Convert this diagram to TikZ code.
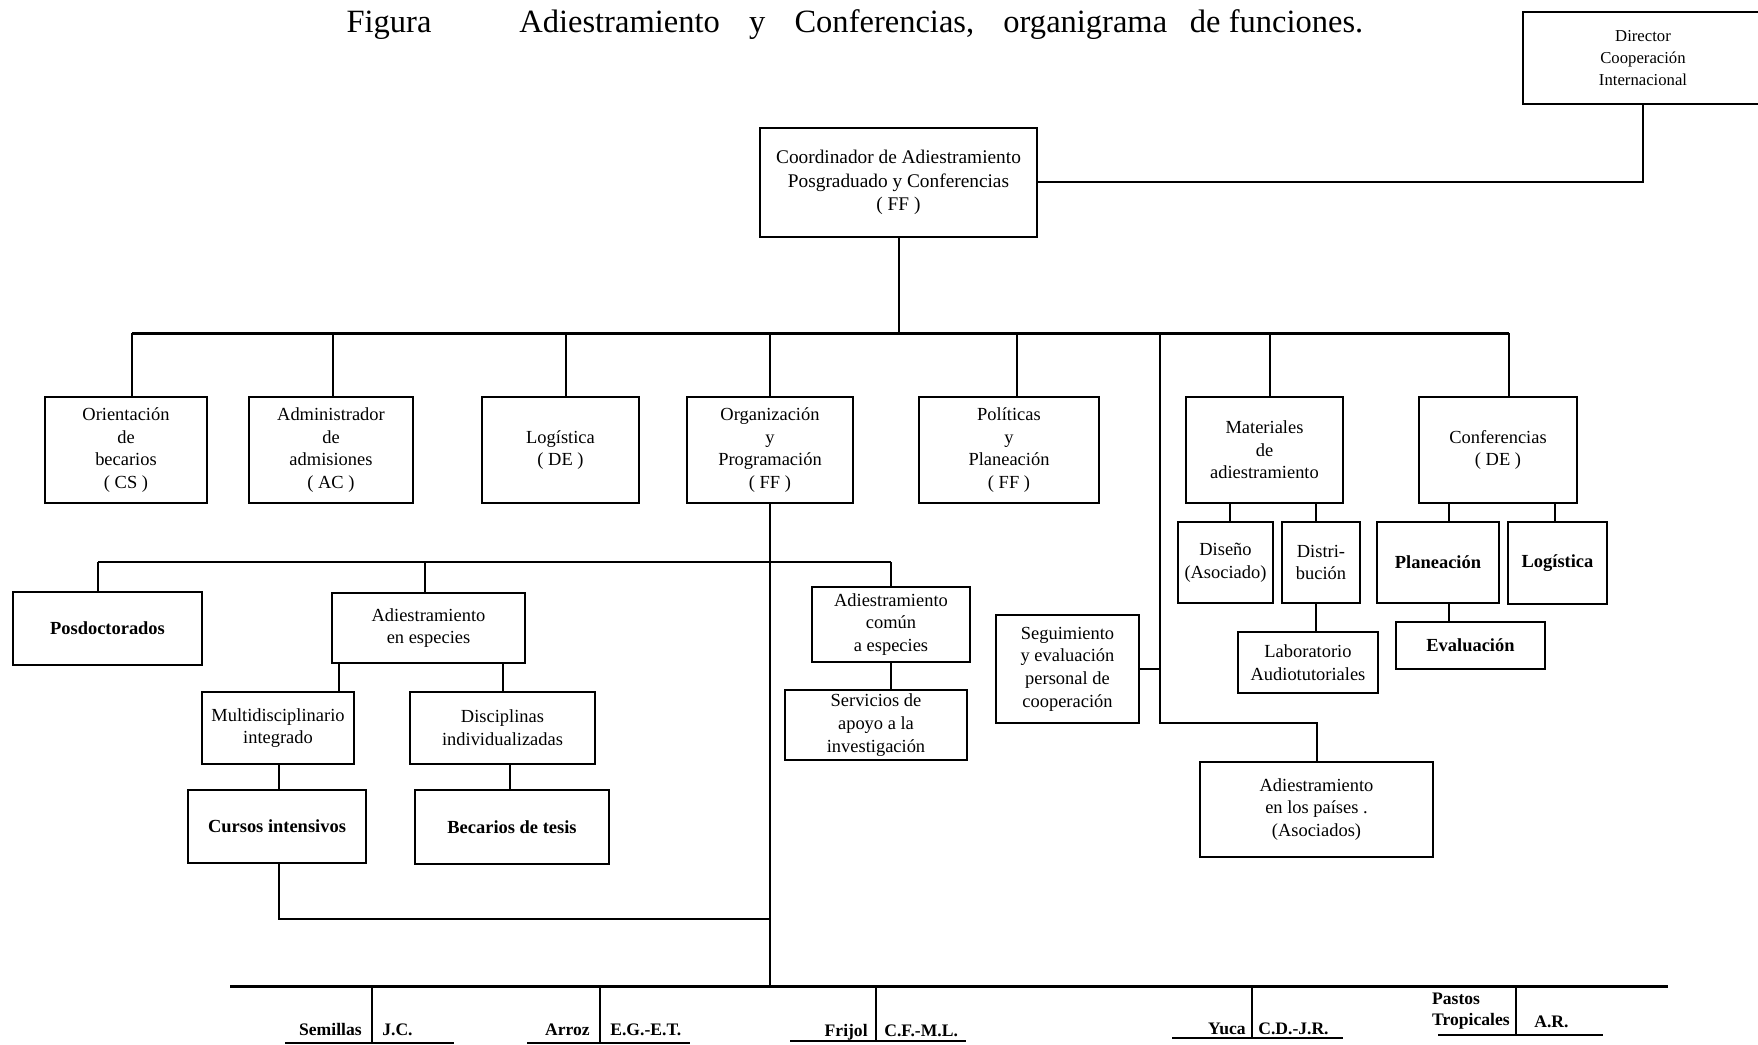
\documentclass[tikz,border=0pt]{standalone}
\usepackage{fontspec}
\setmainfont{Liberation Serif}
\tikzset{
  orgbox/.style={draw, line width=0.55mm, inner sep=0pt, align=center, font=\fontsize{10.5}{12.9}\selectfont},
  bf/.style={font=\bfseries\fontsize{10.5}{12.9}\selectfont},
  link/.style={line width=0.4mm},
  bus/.style={line width=0.6mm},
  lbl/.style={inner sep=0pt, font=\bfseries\fontsize{10}{12.4}\selectfont, align=left},
}
\newcommand\obox[7][]{\node[orgbox,#1,minimum width={(#5-#3)*0.2mm},minimum height={(#6-#4)*0.2mm}] (#2) at ({(#3+#5)/2},{(#4+#6)/2}) {#7};}
\begin{document}
\begin{tikzpicture}[x=0.2mm,y=-0.2mm]
\fill[white] (0,0) rectangle (1758,1045);
\useasboundingbox (0,0) rectangle (1758,1045);
% title
\node[anchor=base, inner sep=0pt, font=\fontsize{18.5}{22}\selectfont] (fig) at (389,33) {Figura};
\node[anchor=base west, inner sep=0pt, font=\fontsize{18.5}{22}\selectfont] (tit) at (519,33) {Adiestramiento\hspace{0.9em}y\hspace{0.9em}Conferencias,\hspace{0.9em}organigrama\hspace{0.7em}de funciones.};
% boxes
\obox[font=\fontsize{11}{13.2}\selectfont]{coord}{760}{128}{1037}{237}{Coordinador de Adiestramiento\\Posgraduado y Conferencias\\( FF )}
\obox[font=\fontsize{9.5}{12.3}\selectfont]{dir}{1523}{12}{1763}{104}{Director\\Cooperación\\Internacional}
\obox{ori}{45}{397}{207}{503}{Orientación\\de\\becarios\\( CS )}
\obox{adm}{249}{397}{413}{503}{Administrador\\de\\admisiones\\( AC )}
\obox{log}{482}{397}{639}{503}{Logística\\( DE )}
\obox{org}{687}{397}{853}{503}{Organización\\y\\Programación\\( FF )}
\obox{pol}{919}{397}{1099}{503}{Políticas\\y\\Planeación\\( FF )}
\obox{mat}{1186}{397}{1343}{503}{Materiales\\de\\adiestramiento}
\obox{conf}{1419}{397}{1577}{503}{Conferencias\\( DE )}
\obox[bf]{posd}{13}{592}{202}{665}{Posdoctorados}
\obox{adesp}{332}{593}{525}{663}{Adiestramiento\\en especies}
\obox{multi}{202}{692}{354}{764}{Multidisciplinario\\integrado}
\obox{disc}{410}{692}{595}{764}{Disciplinas\\individualizadas}
\obox[bf]{cursos}{188}{790}{366}{863}{Cursos intensivos}
\obox[bf]{becar}{415}{790}{609}{864}{Becarios de tesis}
\obox{adcom}{812}{587}{970}{662}{Adiestramiento\\común\\a especies}
\obox{serv}{785}{690}{967}{760}{Servicios de\\apoyo a la\\investigación}
\obox{seg}{996}{615}{1139}{723}{Seguimiento\\y evaluación\\personal de\\cooperación}
\obox{dis}{1178}{522}{1273}{603}{Diseño\\(Asociado)}
\obox{distr}{1282}{522}{1360}{603}{Distri-\\bución}
\obox{lab}{1238}{632}{1378}{693}{Laboratorio\\Audiotutoriales}
\obox[bf]{plan}{1377}{522}{1499}{603}{Planeación}
\obox[bf]{logc}{1508}{522}{1607}{604}{Logística}
\obox[bf]{eval}{1396}{622}{1545}{669}{Evaluación}
\obox{paises}{1200}{762}{1433}{857}{Adiestramiento\\en los países .\\(Asociados)}
% top bus
\coordinate (tb1) at (132,333);
\coordinate (tb2) at (333,333);
\coordinate (tb3) at (566,333);
\coordinate (tb5) at (1017,333);
\coordinate (tb6) at (1160,333);
\coordinate (tb7) at (1270,333);
\coordinate (tb8) at (1509,333);
\draw[bus] (tb1) -- (tb8);
\draw[link] (coord.south) -- (coord.south |- tb1);
\draw[link] (coord.east) -| (dir.south);
\draw[link] (tb1) -- (tb1 |- ori.north);
\draw[link] (tb2) -- (tb2 |- adm.north);
\draw[link] (tb3) -- (tb3 |- log.north);
\draw[link] (org.north |- tb1) -- (org.north);
\draw[link] (tb5) -- (tb5 |- pol.north);
\draw[link] (tb7) -- (tb7 |- mat.north);
\draw[link] (tb8) -- (tb8 |- conf.north);
% bottom bus
\coordinate (bl) at (230,986);
\coordinate (br) at (1668,986);
\draw[bus] (bl) -- (br);
\draw[link] (org.south) -- (org.south |- bl);
% second level
\coordinate (sb1) at (98,562);
\coordinate (sb2) at (425,562);
\coordinate (sb3) at (891,562);
\draw[link] (sb1) -- (sb3);
\draw[link] (sb1) -- (sb1 |- posd.north);
\draw[link] (sb2) -- (sb2 |- adesp.north);
\draw[link] (sb3) -- (sb3 |- adcom.north);
\draw[link] (adcom.south) -- (adcom.south |- serv.north);
\coordinate (xm) at (339,0);
\coordinate (xd) at (503,0);
\coordinate (xb) at (510,0);
\coordinate (xc) at (279,919);
\draw[link] (adesp.south -| xm) -- (multi.north -| xm);
\draw[link] (adesp.south -| xd) -- (disc.north -| xd);
\draw[link] (multi.south -| xc) -- (cursos.north -| xc);
\draw[link] (disc.south -| xb) -- (becar.north -| xb);
\draw[link] (cursos.south -| xc) -- (xc) -- (xc -| org.south);
% right side
\coordinate (lb) at (1160,723);
\draw[link] (tb6) -- (lb) -| (paises.north);
\draw[link] (seg.east) -- (seg.east -| tb6);
\coordinate (xds) at (1230,0);
\coordinate (xdt) at (1316,0);
\draw[link] (mat.south -| xds) -- (dis.north -| xds);
\draw[link] (mat.south -| xdt) -- (distr.north -| xdt);
\draw[link] (distr.south -| xdt) -- (lab.north -| xdt);
\coordinate (xp) at (1449,0);
\coordinate (xl) at (1555,0);
\draw[link] (conf.south -| xp) -- (plan.north -| xp);
\draw[link] (conf.south -| xl) -- (logc.north -| xl);
\draw[link] (plan.south -| xp) -- (eval.north -| xp);
% bottom drops
\coordinate (d1) at (372,986);
\coordinate (d2) at (600,986);
\coordinate (d3) at (876,986);
\coordinate (d4) at (1252,986);
\coordinate (d5) at (1516,986);
\coordinate (u1) at (0,1043);
\coordinate (u2) at (0,1043);
\coordinate (u3) at (0,1041);
\coordinate (u4) at (0,1038);
\coordinate (u5) at (0,1035);
\draw[link] (d1) -- (d1 |- u1);
\draw[link] (d2) -- (d2 |- u2);
\draw[link] (d3) -- (d3 |- u3);
\draw[link] (d4) -- (d4 |- u4);
\draw[link] (d5) -- (d5 |- u5);
\node[lbl, anchor=base east] (sem) at (362,1035) {Semillas};
\node[lbl, anchor=base west] (semr) at (382,1035) {J.C.};
\node[lbl, anchor=base east] (arr) at (590,1035) {Arroz};
\node[lbl, anchor=base west] (arrr) at (610,1035) {E.G.-E.T.};
\node[lbl, anchor=base east] (fri) at (868,1036) {Frijol};
\node[lbl, anchor=base west] (frir) at (884,1036) {C.F.-M.L.};
\node[lbl, anchor=base east] (yuc) at (1246,1034) {Yuca};
\node[lbl, anchor=base west] (yucr) at (1258,1034) {C.D.-J.R.};
\node[lbl, anchor=south east] (pas) at (1510,1030) {Pastos\\Tropicales};
\node[lbl, anchor=base west] (pasr) at (1534,1027) {A.R.};
\draw[link] (285,1043) -- (454,1043);
\draw[link] (527,1043) -- (690,1043);
\draw[link] (790,1041) -- (966,1041);
\draw[link] (1172,1038) -- (1343,1038);
\draw[link] (1438,1035) -- (1603,1035);
\end{tikzpicture}
\end{document}
